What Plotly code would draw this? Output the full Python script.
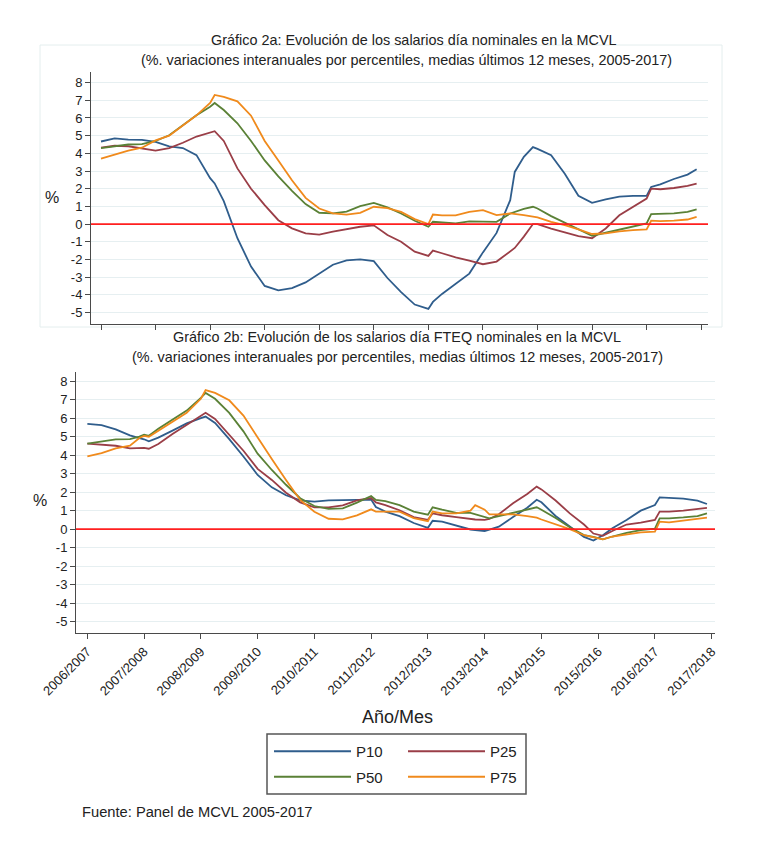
import plotly.graph_objects as go

# ---------------- data ----------------
SERIES = ["P10", "P25", "P50", "P75"]
COLORS = {"P10": "#2f5d8c", "P25": "#9a3e47", "P50": "#5a8136", "P75": "#f08a1c"}

TICK_LABELS = ["2006/2007", "2007/2008", "2008/2009", "2009/2010", "2010/2011",
               "2011/2012", "2012/2013", "2013/2014", "2014/2015", "2015/2016",
               "2016/2017", "2017/2018"]

# months since first tick (top panel, Gráfico 2a)
top_months = [0, 3, 6, 9, 12, 15, 18, 21, 24, 25,
              27, 30, 33, 36, 39, 42, 45, 48, 51, 54,
              57, 60, 63, 66, 69, 72, 73, 75, 78, 81,
              84, 87, 90, 91, 93, 95, 96, 99, 102, 105,
              108, 111, 114, 117, 120, 121, 123, 126, 129, 131]
top_p10 = [4.67, 4.85, 4.78, 4.76, 4.65, 4.4, 4.3, 3.9, 2.6, 2.3,
           1.3, -0.8, -2.4, -3.5, -3.75, -3.62, -3.3, -2.8, -2.3, -2.05,
           -2.0, -2.1, -3.05, -3.85, -4.55, -4.8, -4.4, -3.95, -3.4, -2.8,
           -1.6, -0.5, 1.35, 2.95, 3.8, 4.35, 4.25, 3.9, 2.85, 1.6,
           1.2, 1.4, 1.55, 1.6, 1.6, 2.1, 2.25, 2.55, 2.8, 3.1]
top_p25 = [4.32, 4.43, 4.4, 4.28, 4.16, 4.3, 4.6, 4.95, 5.15, 5.25,
           4.7, 3.15, 2.0, 1.07, 0.22, -0.24, -0.53, -0.6, -0.43, -0.3,
           -0.15, -0.07, -0.62, -1.0, -1.56, -1.8, -1.5, -1.65, -1.88, -2.06,
           -2.27, -2.12, -1.56, -1.35, -0.71, 0.0, 0.0, -0.26, -0.47, -0.68,
           -0.8, -0.25, 0.5, 0.98, 1.44, 2.0, 1.97, 2.04, 2.16, 2.29]
top_p50 = [4.3, 4.4, 4.5, 4.52, 4.7, 5.02, 5.6, 6.15, 6.64, 6.85,
           6.45, 5.7, 4.7, 3.6, 2.7, 1.88, 1.13, 0.64, 0.6, 0.71,
           1.01, 1.2, 0.94, 0.6, 0.19, -0.15, 0.13, 0.08, 0.04, 0.15,
           0.13, 0.13, 0.6, 0.7, 0.86, 0.98, 0.88, 0.45, 0.07, -0.3,
           -0.66, -0.49, -0.3, -0.11, 0.04, 0.56, 0.56, 0.6, 0.69, 0.83]
top_p75 = [3.7, 3.94, 4.16, 4.32, 4.73, 5.0, 5.57, 6.15, 6.85, 7.3,
           7.19, 6.94, 6.13, 4.7, 3.6, 2.48, 1.48, 0.88, 0.6, 0.54,
           0.64, 0.98, 0.9, 0.69, 0.28, 0.0, 0.54, 0.49, 0.49, 0.69,
           0.79, 0.51, 0.6, 0.58, 0.51, 0.42, 0.38, 0.13, -0.06, -0.3,
           -0.56, -0.53, -0.41, -0.34, -0.3, 0.19, 0.17, 0.19, 0.26, 0.41]

# months since first tick (bottom panel, Gráfico 2b, FTEQ)
bot_months = [0, 3, 6, 9, 11, 12, 13, 15, 18, 21,
              24, 25, 27, 30, 33, 36, 39, 42, 45, 48,
              51, 54, 57, 60, 61, 63, 66, 69, 72, 73,
              75, 78, 81, 82, 84, 85, 87, 90, 93, 95,
              96, 99, 102, 105, 107, 109, 111, 114, 117, 120,
              121, 123, 126, 129, 131]
bot_p10 = [5.69, 5.63, 5.4, 5.07, 4.92, 4.86, 4.75, 4.95, 5.33, 5.72,
           6.0, 6.09, 5.74, 4.87, 3.93, 2.93, 2.26, 1.83, 1.56, 1.49,
           1.55, 1.58, 1.6, 1.6, 1.2, 0.95, 0.7, 0.33, 0.07, 0.45,
           0.4, 0.18, -0.02, -0.05, -0.1, -0.03, 0.13, 0.65, 1.16, 1.59,
           1.45, 0.71, 0.13, -0.42, -0.62, -0.33, 0.05, 0.49, 1.0, 1.3,
           1.72, 1.68, 1.65, 1.54, 1.36]
bot_p25 = [4.62, 4.57, 4.51, 4.37, 4.37, 4.4, 4.35, 4.6, 5.14, 5.63,
           6.1, 6.29, 5.96, 5.09, 4.24, 3.26, 2.66, 1.97, 1.45, 1.18,
           1.18, 1.28, 1.55, 1.68, 1.45, 1.3, 1.02, 0.65, 0.5, 0.85,
           0.75, 0.65, 0.53, 0.52, 0.5, 0.55, 0.8, 1.4, 1.9, 2.3,
           2.15, 1.55, 0.85, 0.25, -0.24, -0.36, -0.1, 0.25, 0.35, 0.5,
           0.95, 0.95, 1.0, 1.1, 1.15]
bot_p50 = [4.62, 4.76, 4.86, 4.87, 5.0, 5.11, 5.05, 5.43, 5.92, 6.41,
           7.1, 7.37, 7.05, 6.29, 5.29, 4.08, 3.2, 2.4, 1.67, 1.25,
           1.09, 1.12, 1.43, 1.79, 1.58, 1.52, 1.3, 0.95, 0.78, 1.18,
           1.05, 0.88, 0.88, 0.8, 0.65, 0.58, 0.7, 0.88, 1.05, 1.18,
           1.05, 0.6, 0.1, -0.32, -0.42, -0.55, -0.4, -0.2, -0.05, 0.03,
           0.58, 0.58, 0.63, 0.7, 0.85]
bot_p75 = [3.93, 4.11, 4.37, 4.51, 4.93, 5.04, 5.0, 5.33, 5.8, 6.29,
           7.05, 7.52, 7.37, 6.97, 6.14, 4.93, 3.79, 2.66, 1.58, 0.94,
           0.56, 0.53, 0.74, 1.07, 0.95, 0.95, 0.95, 0.6, 0.43, 0.95,
           0.85, 0.85, 1.0, 1.3, 1.05, 0.8, 0.8, 0.8, 0.7, 0.62,
           0.52, 0.28, 0.0, -0.33, -0.45, -0.55, -0.4, -0.27, -0.18, -0.14,
           0.4, 0.37, 0.45, 0.55, 0.62]

top_data = {"P10": top_p10, "P25": top_p25, "P50": top_p50, "P75": top_p75}
bot_data = {"P10": bot_p10, "P25": bot_p25, "P50": bot_p50, "P75": bot_p75}

TITLE_A1 = "Gráfico 2a: Evolución de los salarios día nominales en la MCVL"
TITLE_A2 = "(%. variaciones interanuales por percentiles, medias últimos 12 meses, 2005-2017)"
TITLE_B1 = "Gráfico 2b: Evolución de los salarios día FTEQ nominales en la MCVL"
TITLE_B2 = "(%. variaciones interanuales por percentiles, medias últimos 12 meses, 2005-2017)"
X_TITLE = "Año/Mes"
Y_TITLE = "%"
SOURCE = "Fuente: Panel de MCVL 2005-2017"

# ---------------- figure ----------------
# page body has an 8px margin, so the figure is 16px smaller and offset by 8px
OFF = 8
W, H = 768 - 2 * OFF, 853 - 2 * OFF
FONT = "Liberation Sans, Arial, sans-serif"
TXT = "#222222"
AX = "#4a4a4a"
GRID = "#e6eff1"

fig = go.Figure()

for s in SERIES:
    fig.add_trace(go.Scatter(x=top_months, y=top_data[s], mode="lines", name=s,
                             line=dict(color=COLORS[s], width=1.8),
                             xaxis="x", yaxis="y", showlegend=False,
                             hoverinfo="skip"))
legend_of = {"P10": "legend", "P50": "legend", "P25": "legend2", "P75": "legend2"}
for s in SERIES:
    fig.add_trace(go.Scatter(x=bot_months, y=bot_data[s], mode="lines", name=s,
                             line=dict(color=COLORS[s], width=1.8),
                             xaxis="x2", yaxis="y2", showlegend=True,
                             legend=legend_of[s], legendgroup=s,
                             hoverinfo="skip"))

def px(x):
    return (x - OFF) / W

def py(y):
    return 1 - (y - OFF) / H

tickvals = [12 * i for i in range(len(TICK_LABELS))]
yt = list(range(-5, 9))

yax = dict(showline=True, linecolor=AX, linewidth=1, ticks="outside", ticklen=5,
           tickcolor=AX, tickwidth=1, tickvals=yt, ticktext=[str(v) for v in yt],
           showgrid=True, gridcolor=GRID, gridwidth=1, zeroline=False,
           automargin=False, tickfont=dict(family=FONT, size=13, color=TXT))
xax = dict(showline=True, linecolor=AX, linewidth=1, ticks="outside", ticklen=5,
           tickcolor=AX, tickwidth=1, tickvals=tickvals, showgrid=False,
           zeroline=False, automargin=False)

fig.update_layout(
    width=W, height=H, autosize=False,
    margin=dict(l=0, r=0, t=0, b=0, pad=0, autoexpand=False),
    paper_bgcolor="white", plot_bgcolor="white",
    font=dict(family=FONT, color=TXT),
    xaxis=dict(xax, domain=[px(91), px(708)], anchor="y", range=[-2.2, 133.5],
               showticklabels=False),
    yaxis=dict(yax, domain=[py(324), py(72)], anchor="x", range=[-5.65, 8.6]),
    xaxis2=dict(xax, domain=[px(76), px(715)], anchor="y2", range=[-2.4, 132.7],
                ticktext=TICK_LABELS, tickangle=-45,
                tickfont=dict(family=FONT, size=13, color=TXT)),
    yaxis2=dict(yax, domain=[py(633), py(372)], anchor="x2", range=[-5.62, 8.5]),
    legend=dict(x=px(269), y=py(735), xanchor="left", yanchor="top",
                itemwidth=77, font=dict(family=FONT, size=15, color=TXT),
                bgcolor="rgba(0,0,0,0)", tracegroupgap=3, itemclick=False),
    legend2=dict(x=px(403), y=py(735), xanchor="left", yanchor="top",
                 itemwidth=77, font=dict(family=FONT, size=15, color=TXT),
                 bgcolor="rgba(0,0,0,0)", tracegroupgap=3, itemclick=False),
)

# zero reference lines
for xr, yr in (("x domain", "y"), ("x2 domain", "y2")):
    fig.add_shape(type="line", xref=xr, yref=yr, x0=0, x1=1, y0=0, y1=0,
                  line=dict(color="#ff1f1f", width=1.6), layer="above")

# light frame around the first graph region
fig.add_shape(type="rect", xref="paper", yref="paper",
              x0=px(40), x1=px(722), y0=py(327), y1=py(45),
              line=dict(color="#e4eeee", width=1), layer="below")
# legend frame
fig.add_shape(type="rect", xref="paper", yref="paper",
              x0=px(267), x1=px(526), y0=py(794), y1=py(734),
              line=dict(color="#555555", width=1.5), layer="above")

def ann(text, x, y, size, xanchor="center"):
    fig.add_annotation(text=text, x=px(x), y=py(y), xref="paper", yref="paper",
                       xanchor=xanchor, yanchor="middle", showarrow=False,
                       font=dict(family=FONT, size=size, color=TXT))

ann(TITLE_A1, 414, 40, 14.4)
ann(TITLE_A2, 406, 60, 14.4)
ann(TITLE_B1, 397, 337, 14.4)
ann(TITLE_B2, 397, 357, 14.4)
ann(Y_TITLE, 52, 197, 16)
ann(Y_TITLE, 40, 500, 16)
ann(X_TITLE, 397, 717, 18)
ann(SOURCE, 80, 812, 14.7, xanchor="left")

fig.write_html("out.html")
